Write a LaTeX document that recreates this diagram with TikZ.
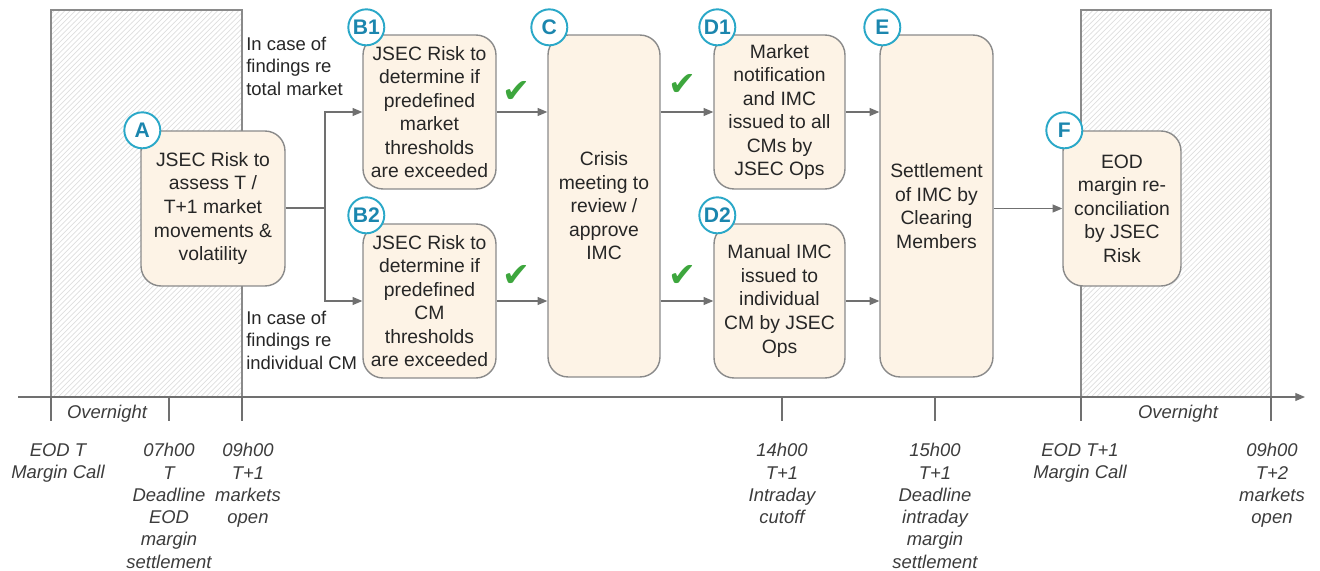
\documentclass[tikz,border=0pt]{standalone}
\usepackage{fontspec}
\setmainfont{Liberation Sans}
\newfontfamily\symfont{DejaVu Sans}
\usetikzlibrary{arrows.meta, patterns, positioning}

\definecolor{boxfill}{HTML}{FDF3E6}
\definecolor{boxline}{HTML}{8A8A8A}
\definecolor{badgeline}{HTML}{2AA8C8}
\definecolor{badgetext}{HTML}{1B86AE}
\definecolor{flowline}{HTML}{707070}
\definecolor{tickgreen}{HTML}{3DA63D}
\definecolor{txt}{HTML}{262626}

\begin{document}
\begin{tikzpicture}[x=0.02cm, y=-0.02cm, >={Triangle[length=5.5pt,width=4.5pt]},
    stepbox/.style={draw=boxline, line width=0.8pt, fill=boxfill, rounded corners=0.4cm,
        align=center, inner sep=0pt, text=txt, font=\fontsize{11}{13.4}\selectfont},
    badge/.style={circle, draw=badgeline, line width=1.1pt, fill=white, minimum size=0.72cm,
        inner sep=0pt, text=badgetext, font=\bfseries\fontsize{12}{12}\selectfont},
    flow/.style={->, draw=flowline, line width=0.7pt},
    note/.style={align=left, anchor=west, inner sep=0pt, text=txt, font=\fontsize{10.5}{12.8}\selectfont},
    timelbl/.style={align=center, anchor=north, inner sep=0pt, text=txt!90, font=\itshape\fontsize{10.5}{12.7}\selectfont},
    okmark/.style={inner sep=0pt, text=tickgreen, font=\symfont\fontsize{19}{19}\selectfont},
    night/.style={draw=boxline, line width=0.7pt, pattern=north east lines, pattern color=black!13}]

    \useasboundingbox (0,0) rectangle (1320,571);

    % === Overnight windows and time axis ===
    \draw[night] (51,10) rectangle (242,397);
    \draw[night] (1081,10) rectangle (1271,397);

    \coordinate (axL) at (18,397);
    \coordinate (axR) at (1305,397);
    \draw[flow] (axL) -- (axR);
    \foreach \x in {51,169,242,782,935,1081,1271}
        \draw[draw=flowline, line width=0.7pt] (\x,397) -- (\x,421);

    \node[timelbl, anchor=center] (night1) at (107,414) {Overnight};
    \node[timelbl, anchor=center] (night2) at (1178,414) {Overnight};

    % Time labels
    \node[timelbl] (tEODT)  at (58,443)   {EOD T\\Margin Call};
    \node[timelbl] (t0700)  at (169,443)  {07h00\\T\\Deadline\\EOD\\margin\\settlement};
    \node[timelbl] (t0900)  at (248,443)  {09h00\\T+1\\markets\\open};
    \node[timelbl] (t1400)  at (782,443)  {14h00\\T+1\\Intraday\\cutoff};
    \node[timelbl] (t1500)  at (935,443)  {15h00\\T+1\\Deadline\\intraday\\margin\\settlement};
    \node[timelbl] (tEODT1) at (1080,443) {EOD T+1\\Margin Call};
    \node[timelbl] (t0900b) at (1272,443) {09h00\\T+2\\markets\\open};

    % === Process steps ===
    \node[stepbox, minimum width=2.88cm, minimum height=3.1cm] (A) at (213,208.5)
        {JSEC Risk to\\assess T /\\T+1 market\\movements \&\\volatility};
    \node[stepbox, minimum width=2.66cm, minimum height=3.08cm] (B1) at (429.5,112)
        {JSEC Risk to\\determine if\\predefined\\market\\thresholds\\are exceeded};
    \node[stepbox, minimum width=2.66cm, minimum height=3.08cm] (B2) at (429.5,301)
        {JSEC Risk to\\determine if\\predefined\\CM\\thresholds\\are exceeded};
    \node[stepbox, minimum width=2.24cm, minimum height=6.84cm] (C) at (604,206)
        {Crisis\\meeting to\\review /\\approve\\IMC};
    \node[stepbox, minimum width=2.62cm, minimum height=3.08cm] (D1) at (779.5,112)
        {Market\\notification\\and IMC\\issued to all\\CMs by\\JSEC Ops};
    \node[stepbox, minimum width=2.62cm, minimum height=3.08cm] (D2) at (779.5,301)
        {Manual IMC\\issued to\\individual\\CM by JSEC\\Ops};
    \node[stepbox, minimum width=2.26cm, minimum height=6.84cm] (E) at (936.5,206)
        {Settlement\\of IMC by\\Clearing\\Members};
    \node[stepbox, minimum width=2.36cm, minimum height=3.1cm] (F) at (1122,208.5)
        {EOD\\margin re-\\conciliation\\by JSEC\\Risk};

    % Badges
    \node[badge] (bA)  at ([shift={(2,0)}]A.north west)   {A};
    \node[badge] (bB1) at ([shift={(4,-7)}]B1.north west) {B1};
    \node[badge] (bB2) at ([shift={(4,-8)}]B2.north west) {B2};
    \node[badge] (bC)  at ([shift={(2,-7)}]C.north west)  {C};
    \node[badge] (bD1) at ([shift={(4,-7)}]D1.north west) {D1};
    \node[badge] (bD2) at ([shift={(4,-8)}]D2.north west) {D2};
    \node[badge] (bE)  at ([shift={(3,-7)}]E.north west)  {E};
    \node[badge] (bF)  at ([shift={(2,0)}]F.north west)   {F};

    % === Connectors ===
    \coordinate (split) at (325,208);
    \draw[draw=flowline, line width=0.7pt] (A.east |- split) -- (split);
    \draw[flow] (split) |- (B1.west);
    \draw[flow] (split) |- (B2.west);
    \draw[flow] (B1.east) -- (B1.east -| C.west);
    \draw[flow] (B2.east) -- (B2.east -| C.west);
    \draw[flow] (C.east |- D1.west) -- (D1.west);
    \draw[flow] (C.east |- D2.west) -- (D2.west);
    \draw[flow] (D1.east) -- (D1.east -| E.west);
    \draw[flow] (D2.east) -- (D2.east -| E.west);
    \draw[flow] (E.east |- F.west) -- (F.west);

    % Branch notes
    \node[note] (noteMkt) at (246,66)  {In case of\\findings re\\total market};
    \node[note] (noteCM)  at (246,340) {In case of\\findings re\\individual CM};

    % Approval marks
    \node[okmark] (ok1) at (516,92)  {✔};
    \node[okmark] (ok2) at (516,276) {✔};
    \node[okmark] (ok3) at (682,85)  {✔};
    \node[okmark] (ok4) at (682,276) {✔};
\end{tikzpicture}
\end{document}
